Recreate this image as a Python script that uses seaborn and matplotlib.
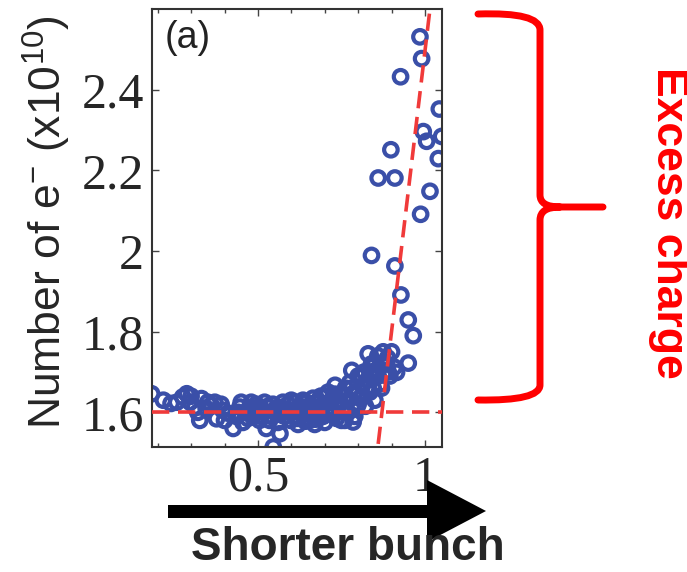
import numpy as np
import pandas as pd
import matplotlib
matplotlib.use("Agg")
import matplotlib.pyplot as plt
from matplotlib.path import Path
from matplotlib.patches import PathPatch, Polygon
from matplotlib.transforms import Affine2D
import seaborn as sns

# ---- data ----
x_vals = [0.182, 0.217, 0.240, 0.257, 0.275, 0.287, 0.297, 0.311, 0.326, 0.331,
          0.345, 0.360, 0.371, 0.376, 0.395, 0.410, 0.426, 0.435, 0.446, 0.455,
          0.462, 0.475, 0.485, 0.495, 0.505, 0.515, 0.525, 0.530, 0.540, 0.546,
          0.552, 0.560, 0.566, 0.570, 0.580, 0.590, 0.598, 0.605, 0.612, 0.620,
          0.628, 0.635, 0.642, 0.650, 0.658, 0.665, 0.672, 0.680, 0.688, 0.695,
          0.702, 0.710, 0.716, 0.722, 0.731, 0.735, 0.740, 0.748, 0.755, 0.762,
          0.768, 0.775, 0.781, 0.785, 0.790, 0.795, 0.800, 0.805, 0.812, 0.818,
          0.822, 0.828, 0.830, 0.835, 0.840, 0.845, 0.850, 0.855, 0.859, 0.865,
          0.870, 0.875, 0.880, 0.888, 0.895, 0.900, 0.908, 0.915, 0.950, 0.700,
          0.760, 0.670, 0.620, 0.840, 0.910, 0.928, 0.950, 0.965, 0.860, 0.910,
          0.987, 1.015, 1.040, 1.050, 1.005, 0.995, 0.898, 1.043, 0.927, 0.990,
          0.985,
          0.440, 0.450, 0.470, 0.480, 0.490, 0.500, 0.510, 0.520, 0.535, 0.545,
          0.555, 0.565, 0.575, 0.585, 0.595, 0.600, 0.610, 0.625, 0.640, 0.645,
          0.655, 0.660, 0.675, 0.685, 0.690, 0.700, 0.705, 0.715, 0.725, 0.730,
          0.745, 0.750, 0.760, 0.770, 0.780, 0.790, 0.800, 0.810, 0.815, 0.825,
          0.835, 0.845, 0.850, 0.860, 0.870, 0.885, 0.890, 0.300, 0.350, 0.320,
          0.390, 0.400]
y_vals = [1.646, 1.630, 1.622, 1.625, 1.638, 1.646, 1.625, 1.613, 1.580, 1.634,
          1.610, 1.618, 1.625, 1.584, 1.605, 1.598, 1.560, 1.590, 1.613, 1.575,
          1.600, 1.612, 1.588, 1.620, 1.580, 1.605, 1.560, 1.615, 1.590, 1.514,
          1.600, 1.575, 1.547, 1.612, 1.590, 1.620, 1.580, 1.605, 1.625, 1.585,
          1.600, 1.630, 1.578, 1.612, 1.595, 1.635, 1.583, 1.605, 1.640, 1.590,
          1.620, 1.650, 1.600, 1.632, 1.667, 1.585, 1.615, 1.645, 1.600, 1.660,
          1.628, 1.674, 1.704, 1.576, 1.650, 1.610, 1.690, 1.635, 1.665, 1.700,
          1.615, 1.680, 1.745, 1.650, 1.720, 1.690, 1.630, 1.705, 1.740, 1.670,
          1.720, 1.750, 1.700, 1.735, 1.690, 1.750, 1.712, 1.699, 1.722, 1.575,
          1.580, 1.570, 1.570, 1.989, 1.963, 1.891, 1.829, 1.790, 2.181, 2.181,
          2.091, 2.148, 2.229, 2.284, 2.272, 2.296, 2.251, 2.352, 2.432, 2.477,
          2.531,
          1.600, 1.625, 1.585, 1.625, 1.600, 1.612, 1.590, 1.625, 1.580, 1.620,
          1.610, 1.595, 1.625, 1.605, 1.600, 1.630, 1.590, 1.615, 1.600, 1.625,
          1.580, 1.615, 1.625, 1.595, 1.615, 1.640, 1.600, 1.625, 1.600, 1.645,
          1.625, 1.580, 1.640, 1.600, 1.660, 1.590, 1.620, 1.690, 1.640, 1.660,
          1.700, 1.660, 1.720, 1.690, 1.660, 1.720, 1.700, 1.640, 1.625, 1.600,
          1.620, 1.580]

baseline_y = 1.6
fit_x = [0.859, 1.015]
fit_y = [1.515, 2.600]

y_ticks = [1.6, 1.8, 2.0, 2.2, 2.4]
y_tick_labels = ["1.6", "1.8", "2", "2.2", "2.4"]
x_ticks = [0.5, 1.0]
x_tick_labels = ["0.5", "1"]
x_minor = [0.2, 0.3, 0.4, 0.6, 0.7, 0.8, 0.9]

df = pd.DataFrame({"x": x_vals, "y": y_vals})

W, H = 687, 572
sns.set_style("ticks")
plt.rcParams["mathtext.default"] = "regular"
fig = plt.figure(figsize=(W / 100, H / 100), dpi=100)
ax = fig.add_axes([152 / W, 1 - 447 / H, 290 / W, 438 / H])

blue = "#3a4fa8"
red_d = "#f03a3a"
sns.scatterplot(data=df, x="x", y="y", ax=ax, marker="o", s=95,
                facecolors="none", edgecolor=blue, linewidth=3.0, zorder=2,
                legend=False)

ax.axhline(baseline_y, color=red_d, lw=2.6, dashes=(4.8, 2.4), zorder=3)
# steep fit line through two read points, extended across axes
slope = (fit_y[1] - fit_y[0]) / (fit_x[1] - fit_x[0])
xx = np.array([0.8, 1.1])
ax.plot(xx, fit_y[0] + slope * (xx - fit_x[0]), color=red_d, lw=2.6,
        dashes=(4.8, 2.4), zorder=3)

ax.set_xlim(0.183, 1.051)
ax.set_ylim(1.514, 2.6)
ax.set_yticks(y_ticks)
ax.set_yticklabels(y_tick_labels)
ax.set_xticks(x_ticks)
ax.set_xticklabels(x_tick_labels)
ax.set_xticks(x_minor, minor=True)
ax.tick_params(which="both", direction="in", top=True, right=True,
               color="#444444", width=1.0)
ax.tick_params(which="major", length=5, labelsize=36, pad=6)
ax.tick_params(which="minor", length=3)
for lab in ax.get_xticklabels() + ax.get_yticklabels():
    lab.set_family("Liberation Serif")
for sp in ax.spines.values():
    sp.set_color("#333333")
    sp.set_linewidth(1.5)
ax.set_xlabel("")
ax.set_ylabel("")

ax.text(0.045, 0.975, "(a)", transform=ax.transAxes, ha="left", va="top",
        fontsize=27, family="Liberation Sans", color="#222222")

fig.text(47 / W, 1 - 222 / H, "Number of e$^{-}$ (x10$^{10}$)", rotation=90,
         ha="center", va="center", fontsize=32, family="Liberation Sans")

# pixel coordinate transform (x right, y down)
pix = Affine2D().scale(1 / W, -1 / H).translate(0, 1) + fig.transFigure

# arrow "Shorter bunch"
arrow = Polygon([(168, 505), (427, 505), (427, 480), (486, 511), (427, 542),
                 (427, 518), (168, 518)], closed=True, transform=pix,
                facecolor="black", edgecolor="none")
fig.add_artist(arrow)
fig.text(348 / W, 1 - 560 / H, "Shorter bunch", ha="center", va="baseline",
         fontsize=33, fontweight="bold", family="Liberation Sans")

# red brace
verts = [(478, 14), (540, 12), (540, 30),
         (540, 195),
         (540, 207), (560, 207),
         (603, 207),
         (560, 207), (540, 207), (540, 220),
         (540, 385),
         (540, 401), (478, 400)]
codes = [Path.MOVETO, Path.CURVE3, Path.CURVE3,
         Path.LINETO,
         Path.CURVE3, Path.CURVE3,
         Path.LINETO,
         Path.MOVETO, Path.CURVE3, Path.CURVE3,
         Path.LINETO,
         Path.CURVE3, Path.CURVE3]
brace = PathPatch(Path(verts, codes), transform=pix, facecolor="none",
                  edgecolor="#ff0000", lw=5, capstyle="round", joinstyle="round")
fig.add_artist(brace)
fig.text(668 / W, 1 - 223 / H, "Excess charge", rotation=-90, ha="center",
         va="center", fontsize=32, fontweight="bold", color="#ff0000",
         family="Liberation Sans")

fig.savefig("out.png", dpi=100)
